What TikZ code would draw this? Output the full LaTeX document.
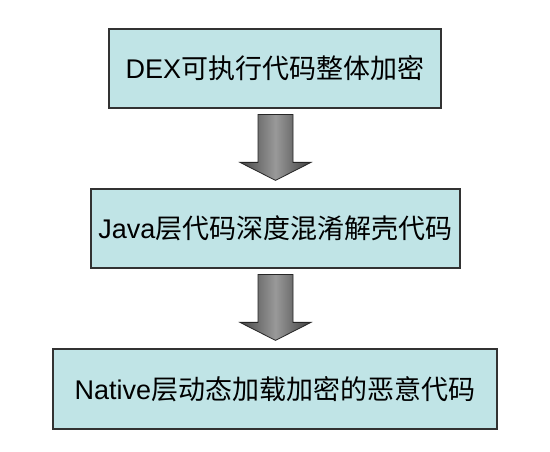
\documentclass[tikz,border=0pt]{standalone}
\usepackage{fontspec}
\setmainfont{Liberation Sans}
\newfontfamily\cjk{Noto Sans CJK SC}
\usetikzlibrary{calc}
\definecolor{boxfill}{RGB}{192,228,230}
\definecolor{boxline}{RGB}{50,50,50}
\tikzset{
  stagebox/.style={draw=boxline, line width=1.2pt, fill=boxfill, minimum height=79pt, inner sep=0pt,
    font=\fontsize{27}{31}\selectfont},
  blockarrow/.style={draw=black!85, line width=0.8pt, left color=black!72, right color=black!75, middle color=black!40, shading angle=90}
}
\begin{document}
\begin{tikzpicture}[x=1pt,y=1pt]
\useasboundingbox (0,0) rectangle (550,452);
\fill[white] (0,0) rectangle (550,452);
\node[stagebox, minimum width=332pt] (b1) at (275,383.5) {DEX{\cjk 可执行代码整体加密}};
\node[stagebox, minimum width=369pt] (b2) at (275.5,223.5) {Java{\cjk 层代码深度混淆解壳代码}};
\node[stagebox, minimum width=444pt, minimum height=80pt] (b3) at (275,63) {Native{\cjk 层动态加载加密的恶意代码}};
\coordinate (s1) at ($(b1.south)+(0.5,-6)$);
\coordinate (t1) at ($(b2.north)+(0,8)$);
\coordinate (s2) at ($(b2.south)+(0,-6)$);
\coordinate (t2) at ($(b3.north)+(0.5,8)$);
\foreach \s/\t in {s1/t1, s2/t2}{
  \path[blockarrow] ($(\s)+(-17.5,0)$) -- ($(\s)+(17.5,0)$) -- ($(\t)+(17.5,18)$) -- ($(\t)+(35.5,18)$)
    -- (\t) -- ($(\t)+(-35.5,18)$) -- ($(\t)+(-17.5,18)$) -- cycle;
}
\end{tikzpicture}
\end{document}
